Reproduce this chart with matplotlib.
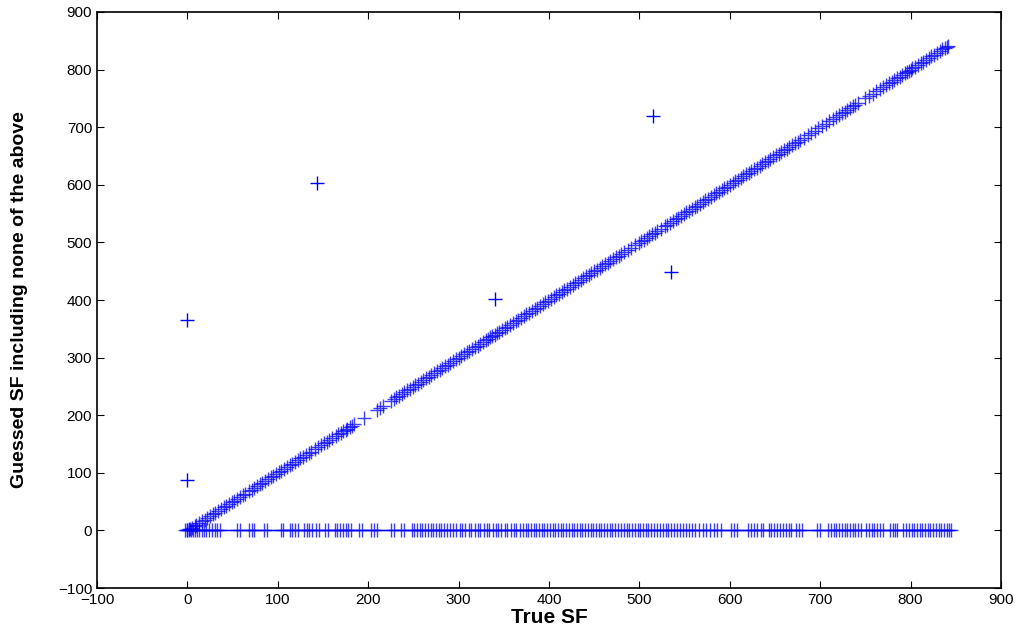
import matplotlib.pyplot as plt

plt.rcParams['font.family'] = ['Liberation Sans', 'DejaVu Sans']

# correctly guessed SF (on the diagonal)
diag_sf = [0, 2, 3, 5, 8, 10, 13, 16, 19, 22, 25, 28, 31, 34, 37, 40, 43, 46, 49, 52, 55,
           58, 61, 64, 68, 71, 74, 77, 80, 83, 86, 89, 92, 95, 98, 101, 104, 107, 110, 113,
           116, 119, 122, 125, 128, 131, 134, 137, 141, 145, 148, 151, 154, 157, 160, 164,
           167, 170, 172, 175, 177, 180, 182, 184, 195, 210, 213, 216, 225, 228, 231, 234,
           237, 240, 243, 246, 249, 252, 255, 258, 261, 264, 267, 270, 273, 276, 279, 282,
           285, 288, 291, 294, 297, 300, 303, 306, 309, 312, 315, 318, 321, 324, 327, 330,
           333, 335, 337, 340, 342, 345, 348, 351, 354, 357, 360, 363, 366, 369, 372, 375,
           378, 381, 384, 387, 390, 393, 396, 399, 402, 405, 408, 411, 414, 417, 420, 423,
           426, 429, 432, 435, 438, 441, 444, 447, 450, 453, 456, 459, 462, 465, 468, 471,
           474, 477, 480, 483, 487, 491, 495, 499, 502, 505, 508, 511, 514, 517, 520, 524,
           528, 531, 534, 537, 540, 543, 546, 549, 552, 555, 558, 561, 564, 567, 570, 573,
           576, 579, 582, 585, 588, 591, 594, 597, 600, 603, 606, 609, 612, 615, 618, 621,
           624, 627, 630, 633, 636, 639, 642, 645, 648, 651, 654, 657, 660, 663, 666, 669,
           672, 675, 678, 682, 686, 690, 694, 698, 702, 706, 710, 714, 718, 721, 724, 727,
           730, 733, 736, 739, 742, 750, 754, 758, 762, 766, 770, 773, 776, 779, 782, 785,
           788, 791, 794, 796, 798, 800, 802, 805, 808, 811, 814, 817, 820, 823, 826, 829,
           832, 835, 838, 840, 841]

# SF guessed as "none of the above" (plotted at 0)
zero_sf = [-3, 0, 2, 4, 6, 8, 11, 13, 16, 18, 21, 24, 27, 30, 33, 36, 55, 58, 68, 71, 74,
           85, 88, 103, 106, 113, 116, 119, 122, 129, 132, 135, 138, 142, 146, 152, 155,
           163, 166, 169, 172, 175, 178, 181, 190, 193, 203, 206, 210, 225, 228, 236, 240,
           248, 251, 254, 257, 260, 263, 266, 269, 272, 275, 278, 281, 284, 287, 290, 294,
           297, 301, 304, 307, 311, 314, 318, 321, 324, 328, 331, 334, 338, 341, 344, 347,
           351, 354, 358, 361, 364, 368, 371, 374, 377, 380, 383, 386, 389, 392, 395, 398,
           401, 404, 407, 410, 413, 416, 419, 422, 425, 428, 431, 434, 437, 440, 443, 446,
           449, 452, 455, 458, 461, 464, 467, 470, 473, 476, 480, 483, 486, 489, 492, 495,
           498, 501, 504, 507, 510, 513, 516, 519, 523, 526, 529, 532, 535, 538, 542, 545,
           548, 551, 555, 558, 562, 566, 570, 574, 578, 582, 586, 590, 601, 605, 608, 620,
           623, 627, 630, 634, 637, 643, 646, 649, 652, 655, 659, 662, 665, 668, 673, 677,
           680, 697, 700, 709, 712, 715, 718, 721, 724, 727, 730, 733, 736, 739, 742, 745,
           751, 754, 757, 760, 763, 766, 769, 777, 780, 783, 785, 792, 795, 798, 801, 804,
           807, 810, 813, 816, 819, 822, 825, 828, 831, 834, 837, 840, 843, 845]

# wrongly guessed SF
out_true = [0, 0, 143, 340, 515, 535]
out_guess = [365, 88, 604, 402, 720, 449]

fig = plt.figure(figsize=(10.18, 6.31), dpi=100)
ax = fig.add_axes([0.0953, 0.068, 0.8880, 0.913])

ax.plot(diag_sf, diag_sf, '+', color='blue', markersize=9.5, markeredgewidth=1, alpha=0.75)
ax.plot(zero_sf, [0] * len(zero_sf), '+', color='blue', markersize=9.5, markeredgewidth=1, alpha=0.75)
ax.plot([min(zero_sf), max(zero_sf)], [0, 0], '-', color='blue', linewidth=1)
ax.plot(out_true, out_guess, '+', color='blue', markersize=9.5, markeredgewidth=1)

ax.set_xlim(-100, 900)
ax.set_ylim(-100, 900)
ax.set_xticks(range(-100, 901, 100))
ax.set_yticks(range(-100, 901, 100))
ax.tick_params(direction='in', length=5, labelsize=11, top=True, right=True,
               labeltop=False, labelright=False)
for s in ax.spines.values():
    s.set_linewidth(1.2)

ax.set_xlabel('True SF', fontsize=15, fontweight='bold', labelpad=1)
ax.set_ylabel('Guessed SF including none of the above', fontsize=14, fontweight='bold')
ax.yaxis.set_label_coords(-0.076, 0.5)

fig.savefig('out.png', dpi=100)
